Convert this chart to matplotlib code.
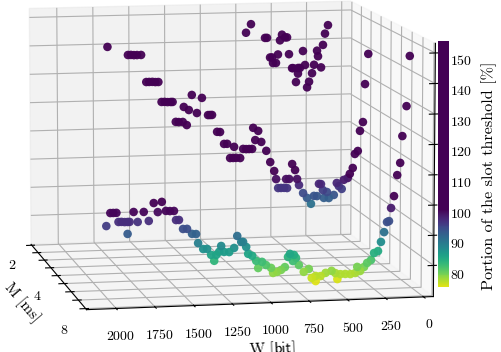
import numpy as np, matplotlib
matplotlib.use('Agg')
import matplotlib.pyplot as plt
from matplotlib.colors import ListedColormap, Normalize
from matplotlib.cm import ScalarMappable

plt.rcParams['font.family']='cmr10'
plt.rcParams['mathtext.fontset']='cm'
plt.rcParams['axes.unicode_minus']=False
plt.rcParams['axes.formatter.use_mathtext']=True
plt.rcParams['font.size']=10

# M = 2 ms
W2=[650,685,551,537,431,445,409,395,515,501,494,473,459,381,282,359,352,317,303,267,317,331,217,238,252,203,153,182,175,140,126,105]
Z2=[146,143,141,141,142,140,141,141,134,134,132,132,135,135,136,130,130,130,130,131,128,125,128,125,123,131,130,136,134,138,142,145]
# M = 4 ms
W4=[1849,1713,1693,1673,1652,1625,1591,1571,1550,1530,1510,1489,1469,1449,1428,1415,1286,1218,1340,1306,1252,1177,1163,1150,1394,1374,1347,1320,1116,1096,1069,1048,1001,1028,1007,987,960,940,919,899,879,872,838,858,817,783,756,729,716,648,627,607,587,573,560,702,682,661,641,532,505,478,458,437,424,410,397,369,390,356,322,302,288,268,254,227,213,193,179,159,145,125,112,91]
Z4=[146.8,143.9,143.9,143.8,143.8,143.8,134.6,134.6,134.6,134.5,134.5,127.7,127.7,127.6,127.6,127.6,129.8,128.7,125.8,124.7,123.6,122.8,122.8,122.8,120.8,120.7,120.7,119.6,117.0,116.9,112.8,112.8,111.7,107.9,107.9,107.9,107.8,110.9,110.8,110.8,110.8,118.0,116.9,113.8,113.1,110.0,106.1,103.0,100.2,100.1,100.1,105.2,103.1,100.0,97.9,97.1,97.1,97.1,97.0,95.1,93.4,91.3,94.0,93.9,98.1,98.0,95.9,95.2,93.2,93.1,94.1,98.2,97.1,96.1,99.2,99.8,101.2,103.2,108.0,109.0,115.9,118.9,131.9,142.2]
# M = 8 ms
W8=[94,113,139,152,171,191,210,223,236,255,275,294,320,340,365,385,430,411,443,475,508,540,573,560,598,637,670,702,728,702,747,780,812,831,851,870,883,844,903,928,954,980,993,1026,1052,1077,1090,1116,1142,1175,1155,2055,2029,2010,1990,1919,1977,1958,1938,1919,1906,1854,1783,1880,1815,1751,1699,1725,1673,1647,1621,1608,1589,1563,1537,1505,1479,1466,1433,1408,1382,1349,1362,1317,1330,1298,1265,1233,1213,1187]
Z8=[149.0,132.6,122.8,114.0,110.0,103.1,99.2,94.9,94.6,91.3,88.1,85.1,84.5,82.2,81.3,80.0,80.1,78.7,78.1,77.8,77.9,77.9,78.3,76.3,79.1,78.5,77.5,77.6,77.0,75.9,80.0,79.1,81.4,83.8,82.8,85.2,84.2,84.8,80.9,80.0,79.4,79.1,80.8,81.8,82.9,80.9,83.3,85.0,85.7,89.7,88.0,96.4,100.6,100.6,100.6,93.6,97.6,97.6,97.5,97.5,97.5,97.4,97.6,100.7,100.6,103.4,103.7,100.4,100.7,100.6,100.6,97.6,97.6,94.6,94.6,92.9,92.8,89.8,87.8,87.8,85.8,85.7,83.8,88.6,86.7,86.6,86.5,87.8,91.7,89.7]
series=[(1.0,W2,Z2),(2.0,W4,Z4),(3.0,W8,Z8)]
m_ticks=[1,1.25,1.5,1.75,2,2.25,2.5,2.75,3]
m_labels=['2','','','','4','','','','8']
w_ticks=[0,250,500,750,1000,1250,1500,1750,2000]
z_ticks=[80,90,100,110,120,130,140,150]

W_,H_=501,352
fig=plt.figure(figsize=(W_/100,H_/100),dpi=100)
ax=fig.add_axes([30.24/W_,23.26/H_,380/W_,1],projection='3d')
ax.view_init(elev=8.713,azim=78.796)
ax.set_proj_type('persp',focal_length=2.066)
ax.set_box_aspect((4,4.237,2.906),zoom=1.527)
ax.set_xlim3d(-64.541,2189.736,view_margin=0)
ax.set_ylim3d(.97,3.03,view_margin=0)
ax.set_zlim3d(69.657,153.145,view_margin=0)
ax.set_xticks(w_ticks)
ax.set_yticks(m_ticks)
ax.set_yticklabels(m_labels)
ax.set_zticks(z_ticks)
ax.set_zticklabels([])
ax.zaxis._axinfo['juggled']=(1,2,0)
ax.tick_params(axis='x',pad=0.5,labelsize=10)
ax.tick_params(axis='y',pad=0,labelsize=10)
ax.set_xlabel('W [$\\mathsf{bit}$]',labelpad=-2.5,fontsize=11)
ax.set_ylabel('M [ms]',labelpad=-7,fontsize=11)

vmin,vmax,vlow,vclip=75.8,156.0,74.5,101.0
base=plt.get_cmap('viridis_r')
cols=[base(min(1.0,(vmin+(vmax-vmin)*i/255-vlow)/(vclip-vlow))) for i in range(256)]
cm=ListedColormap(cols); norm=Normalize(vmin,vmax)
for y0,w,z in series:
    ax.scatter(w,[y0]*len(w),z,c=z,cmap=cm,norm=norm,s=38,depthshade=False,alpha=.95,linewidths=0,clip_on=False)

cax=fig.add_axes([438/W_,1-287/H_,11/W_,246/H_])
cb=fig.colorbar(ScalarMappable(norm,cm),cax=cax)
cb.outline.set_visible(False)
cb.set_ticks(z_ticks)
cb.ax.tick_params(length=0,pad=1,labelsize=10)
cb.set_label('Portion of the slot threshold [%]',fontsize=11.7)
cb.ax.yaxis.set_label_coords(3.9,.451)
fig.savefig('out.png',dpi=100)
